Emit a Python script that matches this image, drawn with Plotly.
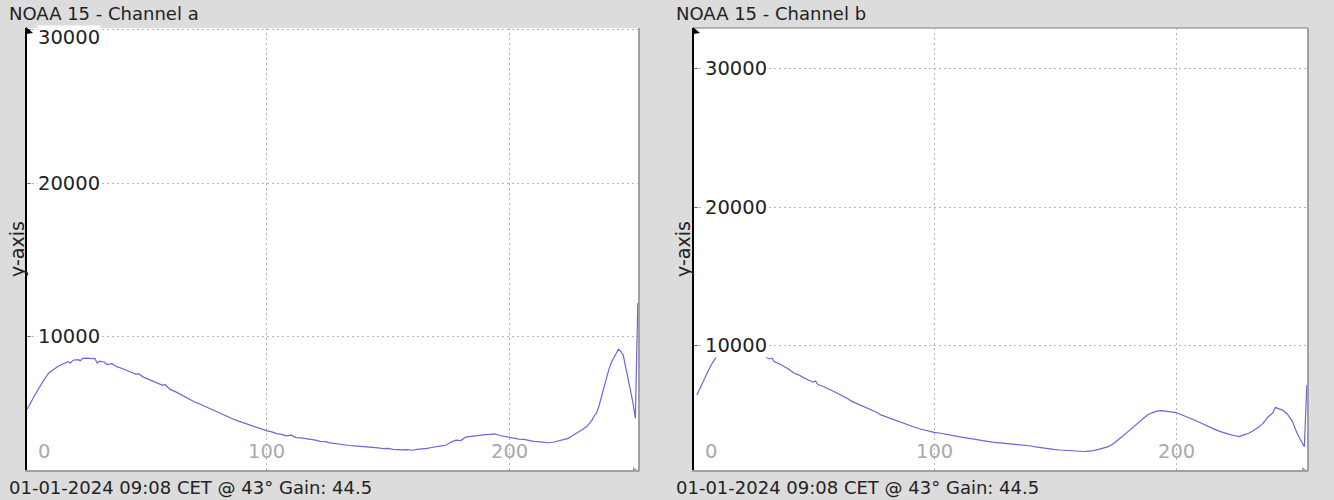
import plotly.graph_objects as go

W, H = 1334, 500

titles = ["NOAA 15 - Channel a", "NOAA 15 - Channel b"]
footer_text = "01-01-2024 09:08 CET @ 43° Gain: 44.5"
y_title = "y-axis"

# Channel a
x_a = [1, 2, 4, 6, 8, 10, 12, 14, 16, 18, 19, 20, 22, 23, 24, 26, 28, 29, 30, 31,
       33, 34, 36, 38, 40, 42, 44, 46, 47, 49, 51, 53, 55, 57, 58, 60, 62, 64, 66, 68,
       70, 72, 74, 76, 78, 80, 82, 84, 86, 88, 90, 92, 94, 96, 98, 100, 102, 104, 106, 108,
       110, 112, 114, 116, 118, 120, 122, 124, 126, 128, 130, 132, 134, 136, 138, 140, 142, 144, 146, 148,
       150, 152, 154, 156, 158, 160, 162, 164, 166, 168, 170, 172, 174, 176, 178, 180, 182, 184, 186, 188,
       190, 192, 194, 196, 198, 200, 202, 204, 206, 208, 210, 212, 214, 216, 218, 220, 222, 224, 226, 228,
       230, 232, 234, 235, 236, 237, 238, 239, 240, 241, 242, 243, 244, 245, 246, 247, 248, 249, 250, 251,
       252, 253]
v_a = [5300, 5550, 6150, 6700, 7200, 7650, 7900, 8100, 8250, 8380, 8300, 8480, 8520, 8450, 8600, 8620, 8580, 8600, 8300, 8420,
       8350, 8200, 8250, 8060, 7960, 7850, 7700, 7560, 7600, 7380, 7250, 7120, 6950, 6850, 6900, 6580, 6450, 6280, 6080, 5950,
       5780, 5650, 5500, 5400, 5200, 5050, 4900, 4800, 4650, 4530, 4420, 4300, 4200, 4080, 3980, 3880, 3820, 3700, 3650, 3560,
       3600, 3440, 3420, 3380, 3300, 3280, 3200, 3180, 3100, 3050, 3000, 2960, 2930, 2900, 2880, 2850, 2820, 2800, 2780, 2720,
       2740, 2680, 2650, 2640, 2660, 2620, 2680, 2700, 2740, 2800, 2830, 2900, 2960, 3150, 3280, 3250, 3480, 3520, 3600, 3610,
       3640, 3650, 3680, 3580, 3520, 3450, 3400, 3340, 3330, 3260, 3200, 3180, 3150, 3110, 3140, 3220, 3300, 3380, 3560, 3740,
       3960, 4180, 4550, 4850, 5050, 5500, 6100, 6650, 7300, 7850, 8300, 8650, 8900, 9200, 9050, 8800, 8100, 7350, 6500, 5700,
       4700, 12200]

# Channel b
x_b = [2, 4, 6, 8, 10, 12, 14, 16, 18, 20, 22, 24, 26, 28, 30, 32, 33, 34, 36, 38,
       40, 42, 44, 46, 48, 50, 51, 52, 54, 56, 58, 60, 62, 64, 66, 68, 70, 72, 74, 76,
       78, 80, 82, 84, 86, 88, 90, 92, 94, 96, 98, 100, 102, 104, 106, 108, 110, 112, 114, 116,
       118, 120, 122, 124, 126, 128, 130, 132, 134, 136, 138, 140, 142, 144, 146, 148, 150, 152, 154, 156,
       158, 160, 162, 164, 166, 168, 170, 172, 174, 176, 178, 180, 182, 184, 186, 188, 190, 192, 194, 196,
       198, 200, 202, 204, 206, 208, 210, 212, 214, 216, 218, 220, 222, 224, 226, 228, 230, 232, 234, 236,
       238, 240, 241, 242, 244, 246, 248, 250, 252, 253, 254]
v_b = [6400, 7200, 7900, 8600, 9150, 9550, 9900, 10100, 10200, 10150, 10050, 9850, 9550, 9350, 9200, 9000, 9050, 8800, 8650, 8450,
       8250, 7980, 7850, 7650, 7480, 7320, 7400, 7150, 7020, 6830, 6700, 6520, 6350, 6150, 5930, 5780, 5620, 5470, 5340, 5160,
       4950, 4820, 4680, 4560, 4410, 4300, 4180, 4060, 3950, 3850, 3760, 3680, 3640, 3560, 3520, 3450, 3380, 3320, 3250, 3200,
       3140, 3080, 3040, 2980, 2950, 2920, 2870, 2820, 2800, 2790, 2770, 2700, 2640, 2580, 2530, 2480, 2440, 2410, 2380, 2340,
       2320, 2290, 2300, 2330, 2360, 2450, 2540, 2650, 2860, 3120, 3420, 3720, 4030, 4340, 4650, 4930, 5100, 5220, 5260, 5230,
       5170, 5120, 4980, 4850, 4700, 4540, 4380, 4200, 4030, 3900, 3760, 3640, 3540, 3460, 3380, 3500, 3620, 3820, 4050, 4350,
       4800, 5100, 5500, 5420, 5300, 5000, 4500, 3600, 3000, 2650, 7100]

x_tick_vals = [0, 100, 200]
x_tick_text = ["0", "100", "200"]
y_tick_vals = [10000, 20000, 30000]
y_tick_text = ["10000", "20000", "30000"]

x_ranges = [[1, 253.5], [0.8, 254.5]]
y_ranges = [[1335, 30100], [962, 32957]]

# layout geometry (pixels)
plot_left = [27, 694]
plot_right = [639, 1308]
plot_top, plot_bottom = 28, 470
title_x = [7, 674]
ytitle_x = [17, 683]

LINE = "#6868d6"
GRID = "#b4b4b4"
FONT = "DejaVu Sans"
TICK_SIZE = 19.5

def px(x):
    return x / W

def py(y):
    return 1 - y / H

fig = go.Figure()
series = [(x_a, v_a), (x_b, v_b)]
for i, (xs, vs) in enumerate(series):
    sfx = "" if i == 0 else "2"
    fig.add_trace(go.Scatter(x=xs, y=vs, mode="lines",
                             line=dict(color=LINE, width=1.2),
                             xaxis="x" + sfx, yaxis="y" + sfx, showlegend=False,
                             hoverinfo="skip"))

layout = dict(width=W, height=H, margin=dict(l=0, r=0, t=0, b=0),
              paper_bgcolor="#dcdcdc", plot_bgcolor="white", showlegend=False)
shapes = []
annotations = []
for i in range(2):
    sfx = "" if i == 0 else "2"
    layout["xaxis" + sfx] = dict(
        domain=[px(plot_left[i]), px(plot_right[i])], range=x_ranges[i],
        anchor="y" + sfx, tickvals=x_tick_vals[1:], showticklabels=False,
        showgrid=True, gridcolor=GRID, griddash="2px,3px", gridwidth=1,
        zeroline=False, showline=True, linecolor="#a0a0a0", linewidth=2, ticks="")
    layout["yaxis" + sfx] = dict(
        domain=[py(plot_bottom), py(plot_top)], range=y_ranges[i],
        anchor="x" + sfx, tickvals=y_tick_vals, showticklabels=False,
        showgrid=True, gridcolor=GRID, griddash="2px,3px", gridwidth=1,
        zeroline=False, showline=True, linecolor="black", linewidth=2,
        ticks="inside", ticklen=4, tickcolor="#777", tickwidth=1)
    # right border
    shapes.append(dict(type="line", xref="paper", yref="paper",
                       x0=px(plot_right[i]), x1=px(plot_right[i]),
                       y0=py(plot_top), y1=py(plot_bottom + 1),
                       line=dict(color="#a0a0a0", width=2)))
    # arrow tip at top of y axis
    x0 = plot_left[i]
    shapes.append(dict(type="path", xref="paper", yref="paper",
                       path=f"M {px(x0-1)},{py(plot_top-1)} L {px(x0+6)},{py(plot_top+5)} L {px(x0-1)},{py(plot_top+6)} Z",
                       fillcolor="black", line=dict(width=0)))
    # corner mark bottom right
    x1 = plot_right[i]
    shapes.append(dict(type="path", xref="paper", yref="paper",
                       path=f"M {px(x1-6)},{py(plot_bottom-3)} L {px(x1+1)},{py(plot_bottom+2)} L {px(x1-6)},{py(plot_bottom+2)} Z",
                       fillcolor="#a0a0a0", line=dict(width=0)))
    # titles and footer
    annotations.append(dict(text=titles[i], xref="paper", yref="paper",
                            x=px(title_x[i]), y=py(13), xanchor="left", yanchor="middle",
                            showarrow=False, font=dict(family=FONT, size=18, color="#222")))
    annotations.append(dict(text=footer_text, xref="paper", yref="paper",
                            x=px(title_x[i]), y=py(487), xanchor="left", yanchor="middle",
                            showarrow=False, font=dict(family=FONT, size=18, color="#222")))
    annotations.append(dict(text=y_title, xref="paper", yref="paper",
                            x=px(ytitle_x[i]), y=py(249), xanchor="center", yanchor="middle",
                            textangle=-90, showarrow=False,
                            font=dict(family=FONT, size=19, color="#222")))
    # y tick labels
    ymax = y_ranges[i][1]
    for v, t in zip(y_tick_vals, y_tick_text):
        near_top = (ymax - v) < 0.02 * (ymax - y_ranges[i][0])
        annotations.append(dict(text=t, xref="x" + sfx + " domain", yref="y" + sfx,
                                x=0, y=v, xanchor="left",
                                yanchor="top" if near_top else "middle",
                                yshift=5 if near_top else 0,
                                xshift=10, showarrow=False, bgcolor="white", borderpad=0,
                                font=dict(family=FONT, size=TICK_SIZE, color="#222")))
    # x tick labels
    for v, t in zip(x_tick_vals, x_tick_text):
        if v < x_ranges[i][0]:
            annotations.append(dict(text=t, xref="x" + sfx + " domain", yref="y" + sfx + " domain",
                                    x=0, y=0, xanchor="left", yanchor="bottom", xshift=9, yshift=5,
                                    showarrow=False,
                                    font=dict(family=FONT, size=TICK_SIZE, color="#aaa")))
        else:
            annotations.append(dict(text=t, xref="x" + sfx, yref="y" + sfx + " domain",
                                    x=v, y=0, xanchor="center", yanchor="bottom", yshift=5,
                                    showarrow=False,
                                    font=dict(family=FONT, size=TICK_SIZE, color="#aaa")))

# top border of channel b panel
shapes.append(dict(type="line", xref="paper", yref="paper",
                   x0=px(plot_left[1]), x1=px(plot_right[1]), y0=py(plot_top), y1=py(plot_top),
                   line=dict(color="#a0a0a0", width=1.5)))

layout["shapes"] = shapes
layout["annotations"] = annotations
fig.update_layout(**layout)
fig.write_html("out.html")
